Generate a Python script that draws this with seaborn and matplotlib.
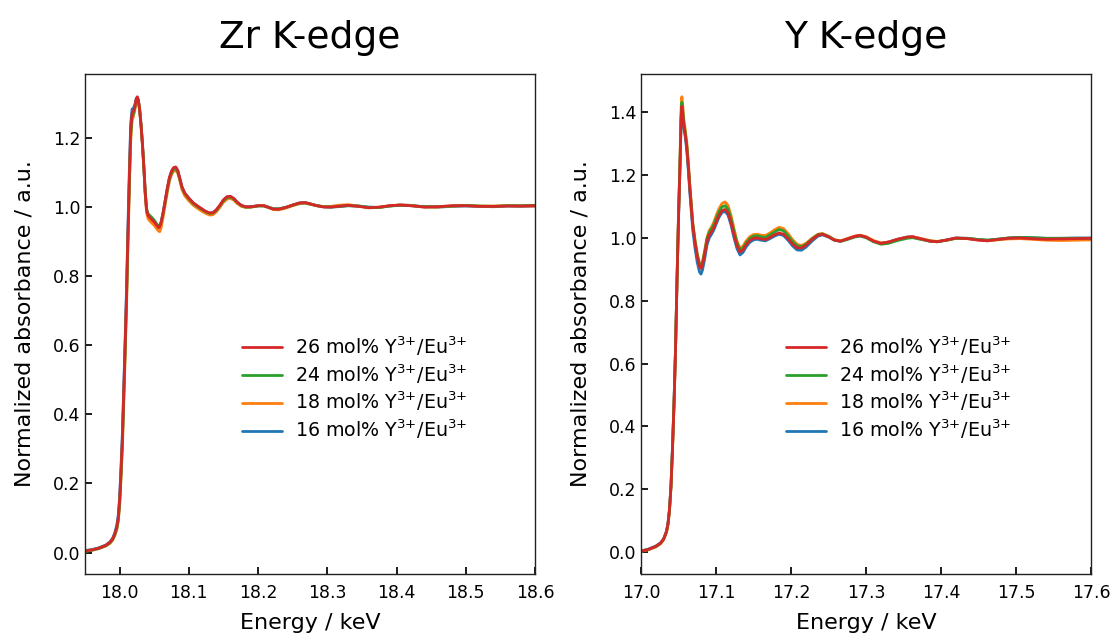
import numpy as np
import pandas as pd
import matplotlib
matplotlib.use("Agg")
import matplotlib.pyplot as plt
import seaborn as sns

# ---------------- data ----------------
series_labels = ["16 mol% Y$^{3{+}}$/Eu$^{3{+}}$", "18 mol% Y$^{3{+}}$/Eu$^{3{+}}$",
                 "24 mol% Y$^{3{+}}$/Eu$^{3{+}}$", "26 mol% Y$^{3{+}}$/Eu$^{3{+}}$"]
series_colors = ["#1f77b4", "#ff7f0e", "#2ca02c", "#d62728"]

energy_zr = [17.950, 17.960, 17.970, 17.980, 17.986, 17.990, 17.993, 17.996, 17.998, 18.000,
             18.002, 18.004, 18.006, 18.008, 18.010, 18.012, 18.014, 18.016, 18.018, 18.020,
             18.022, 18.024, 18.0255, 18.027, 18.029, 18.031, 18.033, 18.035, 18.037, 18.039,
             18.041, 18.044, 18.047, 18.050, 18.053, 18.056, 18.058, 18.060, 18.063, 18.066,
             18.069, 18.072, 18.075, 18.078, 18.081, 18.084, 18.087, 18.090, 18.094, 18.100,
             18.106, 18.112, 18.118, 18.124, 18.130, 18.135, 18.140, 18.145, 18.150, 18.155,
             18.160, 18.165, 18.170, 18.176, 18.182, 18.190, 18.200, 18.208, 18.215, 18.222,
             18.230, 18.240, 18.250, 18.260, 18.268, 18.276, 18.285, 18.295, 18.305, 18.315,
             18.330, 18.345, 18.360, 18.375, 18.390, 18.405, 18.420, 18.440, 18.460, 18.480,
             18.500, 18.520, 18.540, 18.560, 18.580, 18.600]

zr_16 = [0.006, 0.009, 0.014, 0.022, 0.031, 0.042, 0.057, 0.080, 0.108, 0.160,
         0.248, 0.345, 0.482, 0.620, 0.765, 0.940, 1.100, 1.240, 1.282, 1.285,
         1.295, 1.312, 1.316, 1.308, 1.278, 1.233, 1.178, 1.112, 1.038, 0.988,
         0.974, 0.967, 0.961, 0.955, 0.947, 0.939, 0.941, 0.954, 0.984, 1.019,
         1.054, 1.084, 1.102, 1.112, 1.114, 1.104, 1.081, 1.057, 1.039, 1.024,
         1.011, 1.002, 0.994, 0.986, 0.981, 0.982, 0.991, 1.004, 1.019, 1.028,
         1.029, 1.023, 1.012, 1.003, 0.999, 1.000, 1.003, 1.003, 0.999, 0.994,
         0.993, 0.998, 1.005, 1.011, 1.012, 1.008, 1.003, 1.000, 0.999, 1.000,
         1.003, 1.002, 0.999, 0.998, 1.002, 1.005, 1.004, 1.000, 0.999, 1.001,
         1.002, 1.001, 1.000, 1.002, 1.001, 1.002]
zr_18 = [0.004, 0.007, 0.012, 0.019, 0.027, 0.036, 0.049, 0.068, 0.090, 0.135,
         0.215, 0.305, 0.435, 0.570, 0.715, 0.885, 1.050, 1.190, 1.250, 1.262,
         1.280, 1.303, 1.312, 1.306, 1.278, 1.233, 1.178, 1.112, 1.035, 0.982,
         0.966, 0.958, 0.952, 0.946, 0.938, 0.930, 0.928, 0.940, 0.972, 1.008,
         1.043, 1.074, 1.093, 1.103, 1.105, 1.097, 1.075, 1.050, 1.032, 1.017,
         1.005, 0.996, 0.988, 0.981, 0.976, 0.977, 0.986, 0.999, 1.013, 1.022,
         1.024, 1.019, 1.009, 1.001, 0.998, 0.999, 1.003, 1.004, 0.998, 0.992,
         0.991, 0.996, 1.003, 1.009, 1.010, 1.007, 1.003, 1.000, 1.001, 1.004,
         1.006, 1.002, 0.997, 0.998, 1.003, 1.005, 1.004, 0.999, 0.999, 1.002,
         1.003, 1.002, 1.002, 1.003, 1.002, 1.002]
zr_24 = [0.004, 0.007, 0.012, 0.020, 0.028, 0.038, 0.051, 0.070, 0.094, 0.140,
         0.222, 0.315, 0.448, 0.585, 0.730, 0.900, 1.065, 1.205, 1.258, 1.268,
         1.285, 1.308, 1.315, 1.308, 1.280, 1.237, 1.183, 1.118, 1.045, 0.995,
         0.980, 0.974, 0.968, 0.961, 0.952, 0.944, 0.945, 0.956, 0.983, 1.016,
         1.050, 1.080, 1.098, 1.108, 1.110, 1.101, 1.079, 1.056, 1.038, 1.023,
         1.010, 1.001, 0.993, 0.986, 0.981, 0.982, 0.990, 1.003, 1.017, 1.026,
         1.028, 1.022, 1.012, 1.003, 0.999, 0.999, 1.002, 1.002, 0.998, 0.994,
         0.994, 0.998, 1.004, 1.010, 1.011, 1.007, 1.003, 1.000, 0.999, 1.001,
         1.003, 1.002, 0.998, 0.998, 1.002, 1.004, 1.003, 1.000, 1.000, 1.002,
         1.004, 1.002, 1.001, 1.003, 1.003, 1.004]
zr_26 = [0.005, 0.008, 0.013, 0.021, 0.030, 0.040, 0.054, 0.075, 0.100, 0.150,
         0.235, 0.330, 0.465, 0.600, 0.745, 0.920, 1.080, 1.220, 1.270, 1.275,
         1.290, 1.312, 1.318, 1.310, 1.280, 1.235, 1.180, 1.115, 1.040, 0.990,
         0.975, 0.968, 0.962, 0.956, 0.948, 0.940, 0.942, 0.955, 0.985, 1.020,
         1.055, 1.085, 1.103, 1.113, 1.115, 1.105, 1.082, 1.058, 1.040, 1.025,
         1.012, 1.003, 0.995, 0.987, 0.982, 0.983, 0.992, 1.005, 1.020, 1.029,
         1.030, 1.024, 1.013, 1.004, 1.000, 1.000, 1.003, 1.003, 0.998, 0.993,
         0.993, 0.998, 1.005, 1.011, 1.012, 1.008, 1.003, 0.999, 0.999, 1.001,
         1.004, 1.001, 0.997, 0.999, 1.003, 1.005, 1.003, 0.999, 1.000, 1.003,
         1.003, 1.001, 1.001, 1.002, 1.002, 1.003]

energy_y = [17.000, 17.010, 17.020, 17.026, 17.030, 17.034, 17.036, 17.038, 17.040, 17.042,
            17.044, 17.046, 17.048, 17.050, 17.052, 17.0535, 17.0545, 17.0555, 17.057, 17.059,
            17.061, 17.063, 17.065, 17.067, 17.069, 17.072, 17.075, 17.078, 17.080, 17.082,
            17.085, 17.088, 17.091, 17.094, 17.097, 17.100, 17.104, 17.108, 17.112, 17.116,
            17.120, 17.124, 17.128, 17.132, 17.136, 17.140, 17.145, 17.150, 17.155, 17.160,
            17.166, 17.172, 17.178, 17.184, 17.190, 17.196, 17.202, 17.208, 17.214, 17.220,
            17.228, 17.236, 17.242, 17.250, 17.258, 17.266, 17.275, 17.285, 17.292, 17.300,
            17.310, 17.320, 17.330, 17.342, 17.355, 17.362, 17.372, 17.385, 17.395, 17.408,
            17.420, 17.435, 17.450, 17.462, 17.475, 17.490, 17.505, 17.520, 17.540, 17.560,
            17.580, 17.600]

y_16 = [0.003, 0.009, 0.019, 0.029, 0.041, 0.066, 0.092, 0.138, 0.214, 0.335,
        0.475, 0.645, 0.862, 1.058, 1.225, 1.372, 1.410, 1.392, 1.352, 1.322,
        1.280, 1.218, 1.148, 1.086, 1.025, 0.968, 0.922, 0.892, 0.885, 0.898,
        0.935, 0.978, 1.000, 1.012, 1.025, 1.043, 1.066, 1.081, 1.085, 1.073,
        1.042, 1.001, 0.966, 0.946, 0.954, 0.971, 0.986, 0.994, 0.996, 0.993,
        0.991, 0.998, 1.006, 1.012, 1.008, 0.993, 0.975, 0.962, 0.961, 0.971,
        0.990, 1.006, 1.010, 1.003, 0.993, 0.990, 0.997, 1.005, 1.008, 1.003,
        0.990, 0.983, 0.987, 0.996, 1.003, 1.004, 0.998, 0.990, 0.988, 0.994,
        1.000, 0.999, 0.995, 0.993, 0.996, 1.000, 1.002, 1.001, 0.999, 0.999,
        1.000, 1.000]
y_18 = [0.002, 0.007, 0.016, 0.026, 0.038, 0.062, 0.086, 0.130, 0.205, 0.325,
        0.465, 0.640, 0.865, 1.075, 1.255, 1.415, 1.450, 1.425, 1.380, 1.345,
        1.305, 1.245, 1.175, 1.112, 1.050, 0.995, 0.950, 0.920, 0.912, 0.925,
        0.962, 1.002, 1.024, 1.035, 1.050, 1.070, 1.093, 1.110, 1.115, 1.104,
        1.072, 1.030, 0.990, 0.968, 0.974, 0.990, 1.004, 1.011, 1.012, 1.009,
        1.008, 1.016, 1.026, 1.034, 1.030, 1.014, 0.995, 0.980, 0.976, 0.983,
        0.999, 1.012, 1.014, 1.006, 0.995, 0.991, 0.998, 1.006, 1.009, 1.004,
        0.992, 0.984, 0.987, 0.995, 1.002, 1.004, 0.999, 0.992, 0.989, 0.993,
        0.999, 0.998, 0.994, 0.991, 0.994, 0.997, 0.998, 0.996, 0.993, 0.992,
        0.993, 0.994]
y_24 = [0.002, 0.008, 0.017, 0.027, 0.039, 0.064, 0.089, 0.134, 0.210, 0.332,
        0.472, 0.645, 0.868, 1.070, 1.240, 1.395, 1.432, 1.410, 1.368, 1.336,
        1.296, 1.236, 1.166, 1.105, 1.045, 0.990, 0.946, 0.916, 0.908, 0.920,
        0.956, 0.997, 1.018, 1.029, 1.042, 1.061, 1.084, 1.099, 1.103, 1.092,
        1.062, 1.021, 0.984, 0.962, 0.968, 0.984, 0.998, 1.006, 1.007, 1.004,
        1.002, 1.010, 1.019, 1.027, 1.023, 1.007, 0.989, 0.975, 0.972, 0.980,
        0.997, 1.011, 1.013, 1.005, 0.993, 0.989, 0.995, 1.003, 1.006, 1.001,
        0.988, 0.980, 0.983, 0.992, 0.999, 1.001, 0.996, 0.990, 0.988, 0.993,
        0.999, 0.999, 0.995, 0.993, 0.996, 1.000, 1.002, 1.001, 0.999, 0.999,
        0.999, 0.999]
y_26 = [0.002, 0.008, 0.018, 0.028, 0.040, 0.065, 0.090, 0.135, 0.210, 0.330,
        0.470, 0.640, 0.860, 1.060, 1.230, 1.380, 1.420, 1.400, 1.360, 1.330,
        1.290, 1.230, 1.160, 1.100, 1.040, 0.985, 0.940, 0.910, 0.903, 0.915,
        0.950, 0.990, 1.010, 1.020, 1.032, 1.050, 1.072, 1.087, 1.091, 1.080,
        1.050, 1.010, 0.975, 0.955, 0.962, 0.978, 0.992, 0.999, 1.000, 0.997,
        0.995, 1.002, 1.010, 1.016, 1.012, 0.998, 0.981, 0.969, 0.968, 0.977,
        0.995, 1.009, 1.012, 1.004, 0.993, 0.990, 0.997, 1.005, 1.008, 1.003,
        0.990, 0.983, 0.987, 0.996, 1.003, 1.004, 0.998, 0.990, 0.988, 0.994,
        1.000, 0.998, 0.993, 0.991, 0.995, 0.999, 1.000, 0.998, 0.996, 0.997,
        0.998, 0.999]

panel_titles = ["Zr K-edge", "Y K-edge"]
x_ticks_zr = [18.0, 18.1, 18.2, 18.3, 18.4, 18.5, 18.6]
x_ticks_y = [17.0, 17.1, 17.2, 17.3, 17.4, 17.5, 17.6]
x_label = "Energy / keV"
y_label = "Normalized absorbance / a.u."


def long_frame(energy, series):
    rows = []
    for lab, vals in zip(series_labels, series):
        assert len(vals) == len(energy)
        rows.append(pd.DataFrame({"energy": energy, "absorbance": vals, "sample": lab}))
    return pd.concat(rows, ignore_index=True)


df_zr = long_frame(energy_zr, [zr_16, zr_18, zr_24, zr_26])
df_y = long_frame(energy_y, [y_16, y_18, y_24, y_26])

# ---------------- style ----------------
sns.set_theme(style="ticks")
plt.rcParams["font.family"] = ["DejaVu Sans"]
plt.rcParams.update({
    "xtick.direction": "in", "ytick.direction": "in",
    "xtick.major.size": 5, "ytick.major.size": 5,
    "xtick.color": "black", "ytick.color": "black",
    "xtick.labelcolor": "black", "ytick.labelcolor": "black",
    "text.color": "black", "axes.labelcolor": "black",
    "axes.edgecolor": "#222222", "axes.linewidth": 1.0,
    "mathtext.default": "regular",
})

fig = plt.figure(figsize=(11.13, 6.37), dpi=100)
ax1 = fig.add_axes([85 / 1113, 63 / 637, 450 / 1113, 500 / 637])
ax2 = fig.add_axes([641 / 1113, 63 / 637, 450 / 1113, 500 / 637])

palette = dict(zip(series_labels, series_colors))
for ax, df, title, xlim, ticks, leg_x in [(ax1, df_zr, panel_titles[0], (17.95, 18.6), x_ticks_zr, 0.331),
                                           (ax2, df_y, panel_titles[1], (17.0, 17.6), x_ticks_y, 0.305)]:
    sns.lineplot(data=df, x="energy", y="absorbance", hue="sample",
                 hue_order=series_labels, palette=palette, estimator=None,
                 sort=False, linewidth=2.0, ax=ax)
    ax.set_xlim(*xlim)
    ax.set_xticks(ticks)
    ax.set_title(title, fontsize=27, pad=19)
    ax.set_xlabel(x_label, fontsize=16, labelpad=8)
    ax.set_ylabel(y_label, fontsize=16, labelpad=13)
    ax.tick_params(labelsize=12.5, top=False, right=False)
    ax.tick_params(axis="x", pad=7)
    handles, labels = ax.get_legend_handles_labels()
    ax.legend(handles[::-1], labels[::-1], frameon=False, fontsize=13.7,
              loc="upper left", bbox_to_anchor=(leg_x, 0.494),
              handlelength=2.1, handletextpad=0.7, labelspacing=0.22,
              borderaxespad=0)

fig.savefig("out.png", dpi=100)
